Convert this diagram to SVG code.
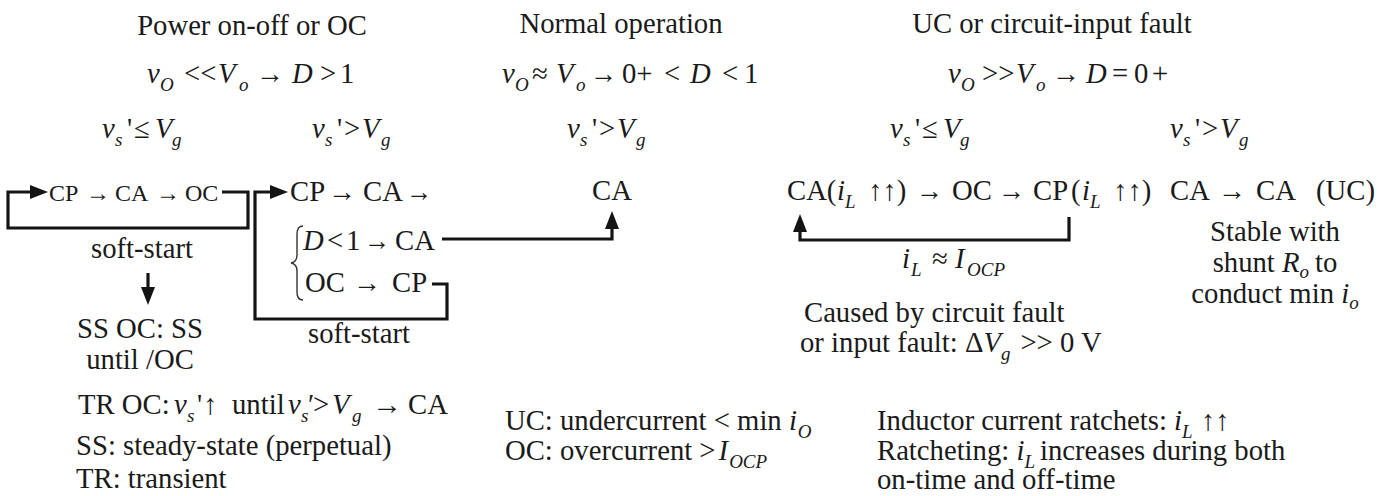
<svg xmlns="http://www.w3.org/2000/svg" width="1382" height="496" viewBox="0 0 1382 496">
<defs>
<marker id="ah" viewBox="0 0 18 14" refX="10" refY="7" markerWidth="18" markerHeight="14" orient="auto" markerUnits="userSpaceOnUse"><path d="M0,0 L18,7 L0,14 z" fill="#141414"/></marker>
</defs>
<rect width="1382" height="496" fill="#fff"/>
<g font-family="Liberation Serif" font-size="28.7" fill="#1a1a1a">

<g id="sec-power">
<text font-family="Liberation Serif" text-anchor="middle" x="252" y="35">Power on-off or OC</text>
<text font-family="Liberation Serif" y="83"><tspan font-style="italic" x="147">v</tspan><tspan font-size="19" font-style="italic" x="160" y="91">O</tspan><tspan x="184" y="83">&lt;&lt;</tspan><tspan font-style="italic" x="218">V</tspan><tspan font-size="19" font-style="italic" x="239" y="91">o</tspan><tspan font-style="italic" x="292" y="83">D</tspan><tspan x="320">&gt;</tspan><tspan x="340">1</tspan></text>
<text font-family="Liberation Serif" x="256" y="83" textLength="28" lengthAdjust="spacingAndGlyphs">→</text>
<text font-family="Liberation Serif" y="138"><tspan font-style="italic" x="102">v</tspan><tspan font-size="19" font-style="italic" x="115" y="146">s</tspan><tspan x="127" y="138">'</tspan><tspan x="134">≤</tspan><tspan font-style="italic" x="155">V</tspan><tspan font-size="19" font-style="italic" x="172" y="146">g</tspan></text>
<text font-family="Liberation Serif" y="138"><tspan font-style="italic" x="312">v</tspan><tspan font-size="19" font-style="italic" x="325" y="146">s</tspan><tspan x="337" y="138">'</tspan><tspan x="344">&gt;</tspan><tspan font-style="italic" x="362">V</tspan><tspan font-size="19" font-style="italic" x="381" y="146">g</tspan></text>
</g>

<g id="node-ss-loop" font-size="24">
<text font-family="Liberation Serif" y="201"><tspan x="49">CP</tspan><tspan x="115">CA</tspan><tspan x="185">OC</tspan></text>
<text font-family="Liberation Serif" x="86" y="201" textLength="24" lengthAdjust="spacingAndGlyphs">→</text>
<text font-family="Liberation Serif" x="156" y="201" textLength="24" lengthAdjust="spacingAndGlyphs">→</text>
<text font-family="Liberation Serif" font-size="28.7" text-anchor="middle" x="142" y="258">soft-start</text>
</g>

<g id="node-ss-note">
<text font-family="Liberation Serif" text-anchor="middle" x="140" y="338">SS OC: SS</text>
<text font-family="Liberation Serif" text-anchor="middle" x="140" y="369">until /OC</text>
</g>

<g id="node-tr-loop">
<text font-family="Liberation Serif" y="201"><tspan x="290">CP</tspan><tspan x="363">CA</tspan></text>
<text font-family="Liberation Serif" x="328" y="201" textLength="28" lengthAdjust="spacingAndGlyphs">→</text>
<text font-family="Liberation Serif" x="406" y="201" textLength="26" lengthAdjust="spacingAndGlyphs">→</text>
<path fill="none" stroke="#333" stroke-width="1.4" d="M303,226 Q297,226 297,234 L297,255 Q297,262 291,263 Q297,264 297,271 L297,292 Q297,300 303,300"/>
<text font-family="Liberation Serif" y="250"><tspan font-style="italic" x="303">D</tspan><tspan x="327">&lt;</tspan><tspan x="346">1</tspan><tspan x="395">CA</tspan></text>
<text font-family="Liberation Serif" x="364" y="250" textLength="26" lengthAdjust="spacingAndGlyphs">→</text>
<text font-family="Liberation Serif" y="292"><tspan x="305">OC</tspan><tspan x="392">CP</tspan></text>
<text font-family="Liberation Serif" x="353" y="292" textLength="28" lengthAdjust="spacingAndGlyphs">→</text>
<text font-family="Liberation Serif" text-anchor="middle" x="359" y="343">soft-start</text>
</g>

<g id="node-legend-left">
<text font-family="Liberation Serif" y="414"><tspan x="78">TR OC:</tspan><tspan font-style="italic" x="174">v</tspan><tspan font-size="19" font-style="italic" x="187" y="422">s</tspan><tspan x="197" y="414">'</tspan><tspan x="203">↑</tspan><tspan x="232">until</tspan><tspan font-style="italic" x="288">v</tspan><tspan font-size="19" font-style="italic" x="301" y="422">s</tspan><tspan x="308" y="414">′</tspan><tspan x="313">&gt;</tspan><tspan font-style="italic" x="332">V</tspan><tspan font-size="19" font-style="italic" x="352" y="422">g</tspan><tspan x="408" y="414">CA</tspan></text>
<text font-family="Liberation Serif" x="372" y="414" textLength="30" lengthAdjust="spacingAndGlyphs">→</text>
<text font-family="Liberation Serif" x="76" y="455">SS: steady-state (perpetual)</text>
<text font-family="Liberation Serif" x="76" y="488">TR: transient</text>
</g>

<g id="sec-normal">
<text font-family="Liberation Serif" text-anchor="middle" x="621" y="33">Normal operation</text>
<text font-family="Liberation Serif" y="83"><tspan font-style="italic" x="502">v</tspan><tspan font-size="19" font-style="italic" x="515" y="91">O</tspan><tspan x="532" y="83">≈</tspan><tspan font-style="italic" x="556">V</tspan><tspan font-size="19" font-style="italic" x="576" y="91">o</tspan><tspan x="622" y="83">0+</tspan><tspan x="664">&lt;</tspan><tspan font-style="italic" x="690">D</tspan><tspan x="722">&lt;</tspan><tspan x="744">1</tspan></text>
<text font-family="Liberation Serif" x="590" y="83" textLength="27" lengthAdjust="spacingAndGlyphs">→</text>
<text font-family="Liberation Serif" y="138"><tspan font-style="italic" x="567">v</tspan><tspan font-size="19" font-style="italic" x="580" y="146">s</tspan><tspan x="592" y="138">'</tspan><tspan x="599">&gt;</tspan><tspan font-style="italic" x="617">V</tspan><tspan font-size="19" font-style="italic" x="636" y="146">g</tspan></text>
</g>

<g id="node-ca">
<text font-family="Liberation Serif" text-anchor="middle" x="612" y="200">CA</text>
</g>

<g id="node-legend-mid">
<text font-family="Liberation Serif" y="430"><tspan x="505">UC: undercurrent &lt; min </tspan><tspan font-style="italic">i</tspan><tspan font-size="19" font-style="italic" dx="1" dy="8">O</tspan></text>
<text font-family="Liberation Serif" y="460"><tspan x="505">OC: overcurrent &gt;</tspan><tspan font-style="italic" dx="3">I</tspan><tspan font-size="19" font-style="italic" dx="1" dy="8">OCP</tspan></text>
</g>

<g id="sec-uc">
<text font-family="Liberation Serif" text-anchor="middle" x="1052" y="33">UC or circuit-input fault</text>
<text font-family="Liberation Serif" y="83"><tspan font-style="italic" x="948">v</tspan><tspan font-size="19" font-style="italic" x="961" y="91">O</tspan><tspan x="982" y="83">&gt;&gt;</tspan><tspan font-style="italic" x="1016">V</tspan><tspan font-size="19" font-style="italic" x="1036" y="91">o</tspan><tspan font-style="italic" x="1086" y="83">D</tspan><tspan x="1112">=</tspan><tspan x="1134">0</tspan><tspan x="1152">+</tspan></text>
<text font-family="Liberation Serif" x="1052" y="83" textLength="28" lengthAdjust="spacingAndGlyphs">→</text>
<text font-family="Liberation Serif" y="138"><tspan font-style="italic" x="890">v</tspan><tspan font-size="19" font-style="italic" x="903" y="146">s</tspan><tspan x="915" y="138">'</tspan><tspan x="922">≤</tspan><tspan font-style="italic" x="943">V</tspan><tspan font-size="19" font-style="italic" x="960" y="146">g</tspan></text>
<text font-family="Liberation Serif" y="138"><tspan font-style="italic" x="1170">v</tspan><tspan font-size="19" font-style="italic" x="1183" y="146">s</tspan><tspan x="1195" y="138">'</tspan><tspan x="1202">&gt;</tspan><tspan font-style="italic" x="1220">V</tspan><tspan font-size="19" font-style="italic" x="1239" y="146">g</tspan></text>
</g>

<g id="node-ratchet-loop">
<text font-family="Liberation Serif" y="200"><tspan x="787">CA(</tspan><tspan font-style="italic" x="837">i</tspan><tspan font-size="19" font-style="italic" x="845" y="208">L</tspan><tspan x="868" y="200">↑↑)</tspan><tspan x="952">OC</tspan><tspan x="1033">CP</tspan><tspan x="1071">(</tspan><tspan font-style="italic" x="1082">i</tspan><tspan font-size="19" font-style="italic" x="1090" y="208">L</tspan><tspan x="1113" y="200">↑↑)</tspan></text>
<text font-family="Liberation Serif" x="916" y="200" textLength="27" lengthAdjust="spacingAndGlyphs">→</text>
<text font-family="Liberation Serif" x="998" y="200" textLength="27" lengthAdjust="spacingAndGlyphs">→</text>
<text font-family="Liberation Serif" y="268"><tspan font-style="italic" x="902">i</tspan><tspan font-size="19" font-style="italic" x="911" y="276">L</tspan><tspan x="932" y="268">≈</tspan><tspan font-style="italic" x="955">I</tspan><tspan font-size="19" font-style="italic" x="967" y="276">OCP</tspan></text>
<text font-family="Liberation Serif" x="804" y="322">Caused by circuit fault</text>
<text font-family="Liberation Serif" y="352"><tspan x="800">or input fault: Δ</tspan><tspan font-style="italic">V</tspan><tspan font-size="19" font-style="italic" dy="8">g</tspan><tspan dy="-8" dx="10">&gt;&gt; 0 V</tspan></text>
</g>

<g id="node-ca-uc">
<text font-family="Liberation Serif" y="200"><tspan x="1170">CA</tspan><tspan x="1256">CA</tspan><tspan x="1316">(UC)</tspan></text>
<text font-family="Liberation Serif" x="1218" y="200" textLength="28" lengthAdjust="spacingAndGlyphs">→</text>
<text font-family="Liberation Serif" text-anchor="middle" x="1275" y="241">Stable with</text>
<text font-family="Liberation Serif" text-anchor="middle" x="1275" y="272">shunt <tspan font-style="italic">R</tspan><tspan font-size="19" font-style="italic" dy="6">o</tspan><tspan dy="-6" dx="6">to</tspan></text>
<text font-family="Liberation Serif" text-anchor="middle" x="1275" y="303">conduct min <tspan font-style="italic">i</tspan><tspan font-size="19" font-style="italic" dy="6">o</tspan></text>
</g>

<g id="node-legend-right">
<text font-family="Liberation Serif" y="430"><tspan x="877">Inductor current ratchets: </tspan><tspan font-style="italic">i</tspan><tspan font-size="19" font-style="italic" dy="8">L</tspan><tspan dy="-8" dx="8">↑↑</tspan></text>
<text font-family="Liberation Serif" y="460"><tspan x="877">Ratcheting: </tspan><tspan font-style="italic">i</tspan><tspan font-size="19" font-style="italic" dy="8">L</tspan><tspan dy="-8" dx="5">increases during both</tspan></text>
<text font-family="Liberation Serif" x="877" y="489">on-time and off-time</text>
</g>
</g>

<g id="connectors" fill="none" stroke="#141414" stroke-width="3.2">
<path d="M222,192 H248 V228 H8 V192 H40" marker-end="url(#ah)"/>
<path d="M432,284 H447 V319 H255 V192 H280" marker-end="url(#ah)"/>
<path d="M442,239 H612 V219" marker-end="url(#ah)"/>
<path d="M1069,217 V240 H800 V222" marker-end="url(#ah)"/>
<path d="M148,273 V297" marker-end="url(#ah)"/>
</g>
</svg>
